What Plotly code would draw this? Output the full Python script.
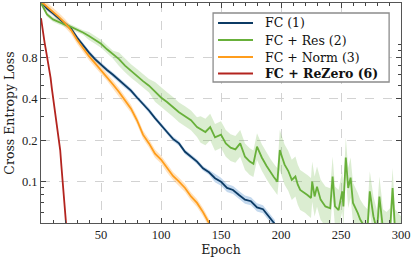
import plotly.graph_objects as go

# ---------------- data ----------------
fc_epochs = list(range(0, 200, 5))
fc_loss = [2.05, 1.82, 1.68, 1.55, 1.43, 1.30, 1.12, 0.98, 0.87, 0.78,
           0.71, 0.65, 0.60, 0.55, 0.50, 0.46, 0.41, 0.37, 0.33, 0.29,
           0.26, 0.23, 0.205, 0.19, 0.165, 0.152, 0.14, 0.125, 0.117, 0.106,
           0.10, 0.09, 0.087, 0.08, 0.074, 0.072, 0.065, 0.063, 0.056, 0.049]
fc_spread = [0.04] * 29 + [0.07] * 11

res_epochs = [0, 5, 10, 15, 20, 25, 30, 35, 40, 45, 50, 55, 60, 65, 70, 75, 80, 85, 90,
              95, 100, 105, 110, 115, 120, 125, 130,
              133, 137, 141, 145, 150, 154, 158, 162, 166, 170, 174, 177, 180, 184, 188,
              191, 194, 197,
              199, 201, 203, 206, 209, 212, 214, 216, 220, 222, 225, 226, 228, 230, 233,
              237, 241, 243, 245, 248, 251, 252, 254, 256, 258, 260, 264, 266, 269, 272,
              274, 277, 280, 282, 285, 288, 291, 293, 295, 298, 300]
res_loss = [2.0, 1.65, 1.52, 1.45, 1.39, 1.34, 1.28, 1.22, 1.15, 1.08, 1.01, 0.92, 0.84,
            0.78, 0.70, 0.64, 0.59, 0.54, 0.50,
            0.45, 0.41, 0.38, 0.35, 0.32, 0.30, 0.28, 0.25,
            0.24, 0.23, 0.25, 0.21, 0.22, 0.19, 0.177, 0.172, 0.19, 0.152, 0.14, 0.135,
            0.18, 0.15, 0.13, 0.118, 0.108, 0.10,
            0.17, 0.15, 0.133, 0.12, 0.103, 0.109, 0.095, 0.087, 0.083, 0.08, 0.076, 0.10,
            0.078, 0.092, 0.074, 0.066, 0.064, 0.109, 0.066, 0.062, 0.085, 0.066, 0.15,
            0.09, 0.107, 0.07, 0.059, 0.053, 0.048, 0.045, 0.085, 0.056, 0.044, 0.078,
            0.045, 0.043, 0.046, 0.09, 0.045, 0.042, 0.04]
res_spread = [0.04] * 8 + [0.07] * 5 + [0.12] * 6 + [0.18] * 8 + [0.25] * 18 + [0.4] * 41

norm_epochs = list(range(0, 145, 5))
norm_loss = [2.05, 1.88, 1.74, 1.58, 1.43, 1.27, 1.08, 0.94, 0.82, 0.73, 0.65, 0.58,
             0.51, 0.45, 0.39, 0.34, 0.28, 0.22, 0.19, 0.16, 0.145, 0.125, 0.11, 0.10,
             0.09, 0.078, 0.07, 0.06, 0.05]
norm_spread = [0.07] * 29

rz_epochs = list(range(0, 22))
rz_loss = [1.55, 1.32, 1.16, 1.03, 0.92, 0.82, 0.74, 0.66, 0.57, 0.48, 0.41, 0.35, 0.30,
           0.26, 0.23, 0.205, 0.17, 0.13, 0.10, 0.08, 0.065, 0.048]

names = ["FC (1)", "FC + Res (2)", "FC + Norm (3)", "<b>FC + ReZero (6)</b>"]
x_ticks = [50, 100, 150, 200, 250, 300]
y_ticks = [0.1, 0.2, 0.4, 0.8]
y_ticklabels = ["0.1", "0.2", "0.4", "0.8"]
y_minor = [0.06, 0.07, 0.08, 0.09, 0.3, 0.5, 0.6, 0.7, 0.9, 1.0, 2.0]

# ---------------- figure ----------------
TICKFONT = "'Liberation Serif', serif"
TEXTFONT = "'DejaVu Serif', serif"
colors = ["#0b3a64", "#68b03a", "#ff9d1c", "#b3241f"]
band_colors = ["rgba(60,130,200,0.30)", "rgba(110,185,70,0.25)", "rgba(255,160,40,0.30)", None]
series = [
    (fc_epochs, fc_loss, fc_spread),
    (res_epochs, res_loss, res_spread),
    (norm_epochs, norm_loss, norm_spread),
    (rz_epochs, rz_loss, None),
]

fig = go.Figure()
for (x, y, s), bcol in zip(series, band_colors):
    if s is None:
        continue
    up = [v * (1 + d) for v, d in zip(y, s)]
    lo = [v / (1 + d) for v, d in zip(y, s)]
    fig.add_trace(go.Scatter(x=x + x[::-1], y=up + lo[::-1], fill="toself",
                             fillcolor=bcol, line=dict(width=0), hoverinfo="skip",
                             showlegend=False, mode="lines"))
for (x, y, s), col, nm in zip(series, colors, names):
    fig.add_trace(go.Scatter(x=x, y=y, mode="lines", name=nm, showlegend=False,
                             line=dict(color=col, width=1.8)))

# legend drawn as a boxed key (paper coordinates)
box_x0, box_x1, box_y0, box_y1 = 0.478, 0.967, 0.641, 0.9545
row_y = [0.9091, 0.8318, 0.7545, 0.6795]
fig.add_shape(type="rect", xref="paper", yref="paper", x0=box_x0, x1=box_x1,
              y0=box_y0, y1=box_y1, fillcolor="white",
              line=dict(color="#8c8c8c", width=1.3), layer="above")
for yy, col, nm in zip(row_y, colors, names):
    fig.add_shape(type="line", xref="paper", yref="paper", x0=0.4917, x1=0.5889,
                  y0=yy, y1=yy, line=dict(color=col, width=1.8), layer="above")
    fig.add_annotation(xref="paper", yref="paper", x=0.6167, y=yy, text=nm,
                       showarrow=False, xanchor="left", yanchor="middle",
                       font=dict(family=TEXTFONT, size=12.5, color="#111111"))

axis_common = dict(
    showline=True, linecolor="#555555", linewidth=1, mirror="allticks",
    ticks="inside", ticklen=5, tickwidth=0.8, tickcolor="#444444",
    showgrid=True, gridcolor="#d2d2d2", griddash="dash", gridwidth=0.8,
    zeroline=False, tickfont=dict(family=TICKFONT, size=12.5, color="#222222"),
)
fig.update_xaxes(range=[0, 300], tickvals=x_ticks, **axis_common,
                 minor=dict(dtick=10, tick0=0, ticks="inside", ticklen=3,
                            tickcolor="#444444", showgrid=False),
                 title=dict(text="Epoch", font=dict(family=TEXTFONT, size=12.5, color="#222222"),
                            standoff=4))
fig.update_yaxes(type="log", range=[-1.30103, 0.30103], tickvals=y_ticks,
                 ticktext=y_ticklabels, **axis_common,
                 minor=dict(tickvals=y_minor, ticks="inside", ticklen=3,
                            tickcolor="#444444", showgrid=False),
                 title=dict(text="Cross Entropy Loss",
                            font=dict(family=TEXTFONT, size=12.5, color="#222222"),
                            standoff=4))

fig.update_layout(
    width=415, height=262,
    margin=dict(l=41, r=14, t=3, b=39),
    plot_bgcolor="white", paper_bgcolor="white",
    font=dict(family=TEXTFONT, color="#222222"),
    showlegend=False,
)

fig.write_html("out.html", config={"displayModeBar": False},
               post_script="document.body.style.margin='0';document.body.style.padding='0';")
